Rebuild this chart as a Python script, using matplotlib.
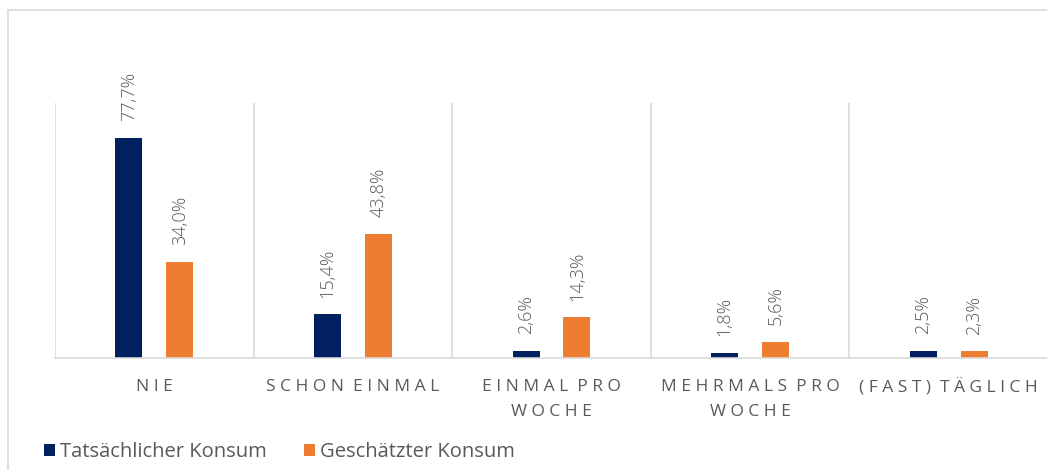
import numpy as np
import matplotlib.pyplot as plt
from matplotlib.patches import Rectangle

plt.rcParams['font.family'] = ['Open Sans', 'DejaVu Sans']

# Data
categories = ['NIE', 'SCHON EINMAL', 'EINMAL PRO\nWOCHE', 'MEHRMALS PRO\nWOCHE', '(FAST) TÄGLICH']
actual = [77.7, 15.4, 2.6, 1.8, 2.5]
estimated = [34.0, 43.8, 14.3, 5.6, 2.3]
series_names = ['Tatsächlicher Konsum', 'Geschätzter Konsum']

blue = '#002060'
orange = '#ED7D31'
grey_text = '#595959'
grid_col = '#D9D9D9'


def spaced(s):
    # imitate the wide letter spacing of the category labels
    lines = []
    for line in s.split('\n'):
        words = [' '.join(list(w)) for w in line.split(' ')]
        lines.append('  '.join(words))
    return '\n'.join(lines)


fig = plt.figure(figsize=(10.47, 4.70), dpi=100)
# outer frame of the chart
fig.patches.append(Rectangle((8 / 1047, -0.1), 1.2, 1.1 - 10 / 470,
                             transform=fig.transFigure, fill=False,
                             edgecolor=grid_col, linewidth=1.2))

ax = fig.add_axes([55 / 1047, 1 - 358 / 470, 993 / 1047, 255 / 470])
x = np.arange(len(categories))
w = 0.136
off = 0.128
b1 = ax.bar(x - off, actual, w, color=blue)
b2 = ax.bar(x + off, estimated, w, color=orange)

for bars, vals in ((b1, actual), (b2, estimated)):
    for rect, v in zip(bars, vals):
        ax.annotate(f'{v:.1f}%'.replace('.', ','),
                    (rect.get_x() + rect.get_width() / 2, rect.get_height()),
                    xytext=(0, 12), textcoords='offset points',
                    rotation=90, ha='center', va='bottom',
                    fontsize=13, fontweight='light', color=grey_text)

ax.set_xlim(-0.5, len(categories) - 0.5)
ax.set_ylim(0, 90)
ax.set_yticks([])
ax.set_xticks(x)
ax.set_xticklabels([spaced(c) for c in categories], fontsize=12.5,
                   color=grey_text, linespacing=1.75)
ax.tick_params(axis='x', length=0, pad=15)
for b in np.arange(-0.5, len(categories), 1.0):
    ax.axvline(b, color=grid_col, linewidth=1.2, zorder=0)
for side in ['top', 'right', 'left']:
    ax.spines[side].set_visible(False)
ax.spines['bottom'].set_color(grid_col)
ax.spines['bottom'].set_linewidth(1.2)

leg = fig.legend([b1, b2], series_names, loc='center left',
                 bbox_to_anchor=(26 / 1047, 1 - 452 / 470), ncol=2,
                 frameon=False, handlelength=0.55,
                 handleheight=0.55, handletextpad=0.25, columnspacing=1.85,
                 prop={'size': 14.5})
for t in leg.get_texts():
    t.set_color(grey_text)

fig.savefig('out.png', dpi=100)
